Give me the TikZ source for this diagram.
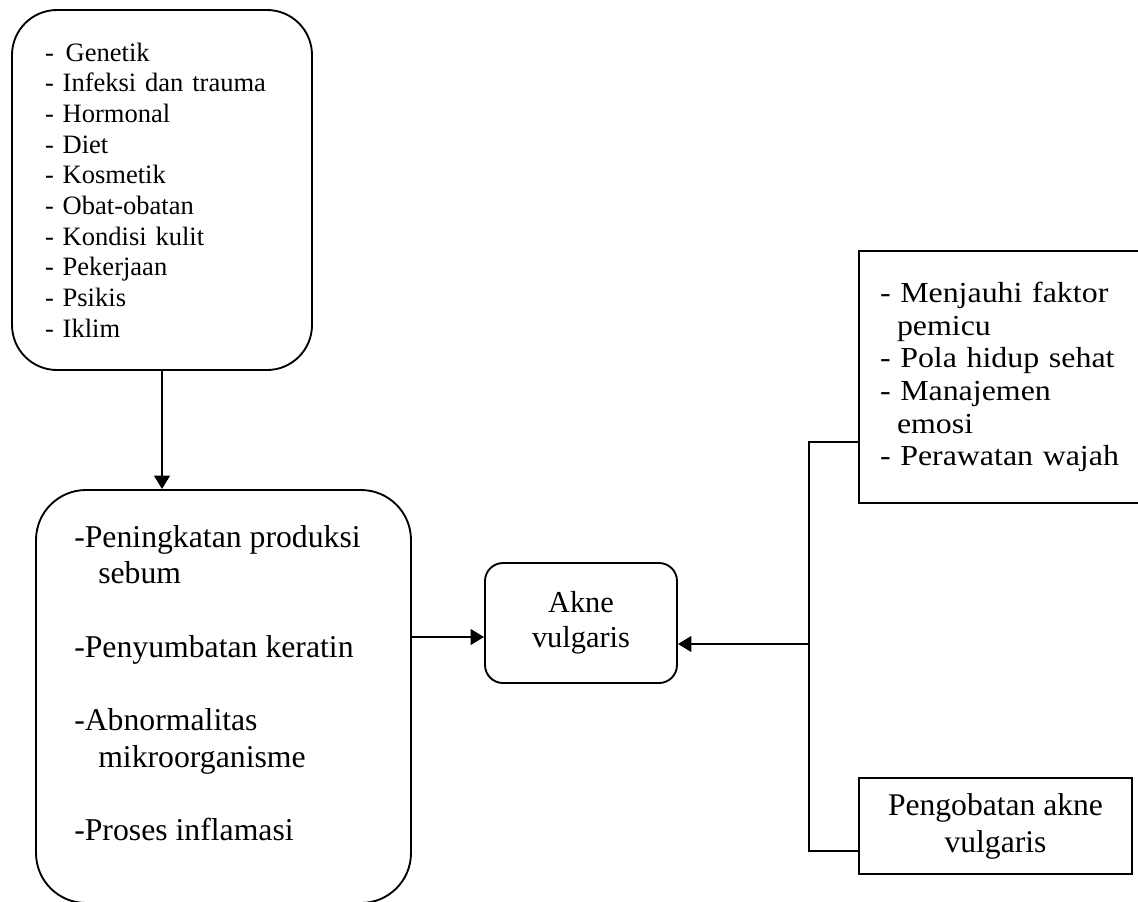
\documentclass[tikz,border=0pt]{standalone}
\usepackage{fontspec}
\setmainfont{Liberation Serif}
\newfontfamily\widefont[FakeStretch=1.1]{Liberation Serif}
\usetikzlibrary{positioning,arrows.meta}

\begin{document}
\begin{tikzpicture}[x=0.75pt,y=-0.75pt,
  roundbox/.style={draw,rounded corners=#1,line width=1.4pt,align=center},
  squarebox/.style={draw,line width=1.4pt,align=center},
  line/.style={line width=1.4pt},
  arrow/.style={line width=2pt,-{Triangle[length=10pt,width=11.5pt]}}
]
\useasboundingbox (0,0) rectangle (1138,901);
\clip (0,0) rectangle (1138,901);
\node (cause) [roundbox=33.75pt,minimum width=225pt,minimum height=270pt,
  text width=175.5pt,align=left,font=\fontsize{19.9}{23}\selectfont] at (162,190)
  {-\hspace{0.45em}Genetik\\- Infeksi dan trauma\\- Hormonal\\- Diet\\- Kosmetik\\- Obat-obatan\\- Kondisi kulit\\- Pekerjaan\\- Psikis\\- Iklim};
\node (mech) [roundbox=37.5pt,minimum width=281.25pt,minimum height=309.75pt] at (223.5,696.5) {};
\node (mechtext) [anchor=north west,inner sep=0pt,align=left,font=\fontsize{23.8}{27.5}\selectfont] at (74,525)
  {-Peningkatan produksi\\\hspace*{18pt}sebum\\[27.5pt]-Penyumbatan keratin\\[27.5pt]-Abnormalitas\\\hspace*{18pt}mikroorganisme\\[27.5pt]-Proses inflamasi};
\node (akne) [roundbox=13.5pt,minimum width=144pt,minimum height=90pt,
  font=\fontsize{22.8}{26.25}\selectfont] at (581,623) {Akne\\vulgaris};
\node (care) [squarebox,minimum width=211.5pt,minimum height=189pt,text width=180pt,align=left,
  font=\widefont\fontsize{21.75}{24.45}\selectfont] at (1000,377)
  {- Menjauhi faktor\\\hspace*{12.75pt}pemicu\\- Pola hidup sehat\\- Manajemen\\\hspace*{12.75pt}emosi\\- Perawatan wajah};
\node (treat) [squarebox,minimum width=204.75pt,minimum height=72pt,
  font=\fontsize{23.7}{27.75}\selectfont] at (995.5,826) {Pengobatan akne\\vulgaris};
\coordinate (split) at (809,644);
\coordinate (inleft) at ([yshift=-10.5pt]akne.west);
\draw[arrow] (cause.south) -- (cause.south |- mech.north);
\draw[arrow] (mech.east |- inleft) -- (inleft);
\draw[line] ([yshift=-48.75pt]care.west) -| (split) |- ([yshift=-18.75pt]treat.west);
\draw[arrow] (split) -- (split -| akne.east);
\end{tikzpicture}
\end{document}
